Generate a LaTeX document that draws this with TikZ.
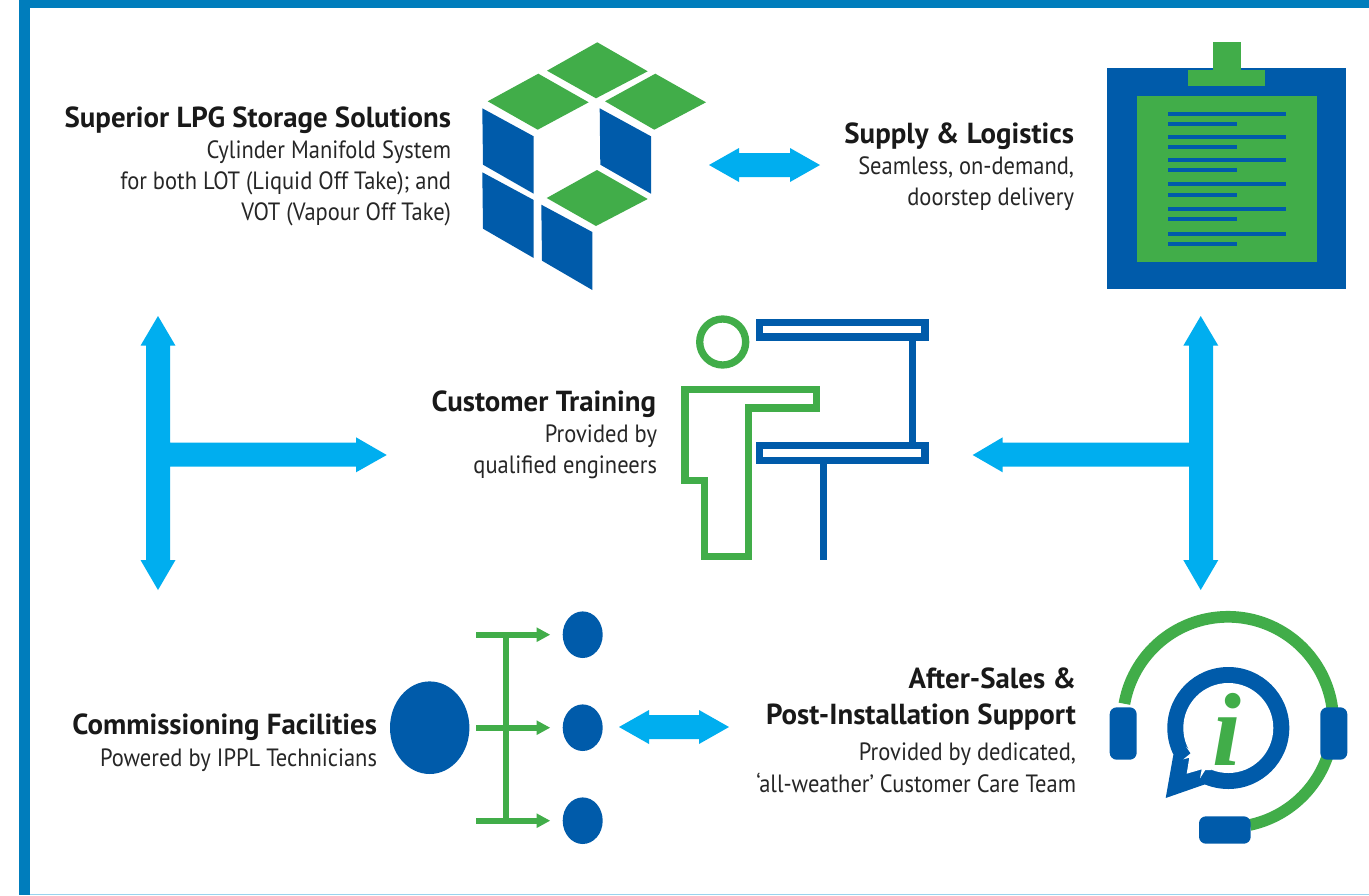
\documentclass[tikz,border=0pt]{standalone}
\usepackage{fontspec}
\setmainfont{PT Sans}
\newfontfamily\subfont[FakeStretch=0.90]{PT Sans}
\newfontfamily\headfont[FakeStretch=0.995]{PT Sans}
\newfontfamily\iconfont{Liberation Serif}
\definecolor{ipblue}{HTML}{005BAA}
\definecolor{ipgreen}{HTML}{41AD49}
\definecolor{ipcyan}{HTML}{00AEEF}
\definecolor{ipframe}{HTML}{007DBC}
\definecolor{ipline}{HTML}{9AD3EE}
\tikzset{
  bluefill/.style={fill=ipblue,draw=none},
  greenfill/.style={fill=ipgreen,draw=none},
  cyanfill/.style={fill=ipcyan,draw=none},
  greenline/.style={draw=ipgreen,line width=7.3pt,miter limit=10},
  blueline/.style={draw=ipblue,line width=7.3pt},
  pad/.style={fill=ipblue,draw=none,rounded corners=7pt},
  head/.style={anchor=base east,inner sep=0pt,outer sep=0pt,font=\fontsize{29}{29}\headfont\bfseries,text=black!90},
  sub/.style={anchor=base east,inner sep=0pt,outer sep=0pt,font=\fontsize{25}{25}\subfont,text=black!85},
}
\newcommand{\dblH}[4]{% x1 x2 y headlen
  \fill[cyanfill] (#1,#3) -- ({#1+#4},{#3-17}) -- ({#1+#4},{#3-12}) -- ({#2-#4},{#3-12}) -- ({#2-#4},{#3-17}) -- (#2,#3) -- ({#2-#4},{#3+17}) -- ({#2-#4},{#3+12}) -- ({#1+#4},{#3+12}) -- ({#1+#4},{#3+17}) -- cycle;}
\begin{document}
\begin{tikzpicture}[x=1pt,y=-1pt]
\useasboundingbox (0,0) rectangle (1369,895);
\fill[white] (0,0) rectangle (1369,895);
% frame
\fill[ipframe] (19,0) rectangle (1369,7.5);
\fill[ipframe] (19,0) rectangle (30,895);
\fill[ipline] (30,893.5) rectangle (1369,895);
% cube
\fill[greenfill] (597.3,42.3) -- (647.7,71.3) -- (596,98.3) -- (547,70.7) -- cycle;
\fill[greenfill] (538.3,73.7) -- (588.7,102.3) -- (537.7,129.7) -- (487.7,101.3) -- cycle;
\fill[greenfill] (655.3,73.7) -- (706,102.3) -- (654.3,129.7) -- (605,101.3) -- cycle;
\fill[greenfill] (597,170) -- (647.7,199) -- (596,226) -- (546.7,198) -- cycle;
\fill[bluefill] (482.3,108.3) -- (533.7,136.3) -- (533.7,193.7) -- (483,164.7) -- cycle;
\fill[bluefill] (482.3,172.3) -- (533.7,200) -- (533.7,258) -- (483,228.7) -- cycle;
\fill[bluefill] (599.7,108.3) -- (651,136.3) -- (651,193.7) -- (600.3,164.7) -- cycle;
\fill[bluefill] (541.3,204.7) -- (592.3,232) -- (592.3,290) -- (542,260.7) -- cycle;
% clipboard
\fill[bluefill] (1107,68) rectangle (1346,289);
\fill[greenfill] (1213,42) rectangle (1241,70);
\fill[greenfill] (1188,70) rectangle (1265,86);
\fill[greenfill] (1137,96) rectangle (1317,262);
\foreach \ya/\yb in {114/124,137/147,160/170,184/195,209/219,234/244}{
  \fill[bluefill] (1168,\ya-2) rectangle (1286,\ya+2);
  \fill[bluefill] (1168,\yb-2) rectangle (1237,\yb+2);
}
% trainer
\draw[greenline] (722.7,342) ellipse (23pt and 23pt);
\draw[blueline] (759.4,322.4) rectangle (925,337);
\draw[blueline] (759.4,445.7) rectangle (925,460.3);
\fill[bluefill] (909,340) rectangle (916,442);
\fill[bluefill] (820,464) rectangle (827,560);
\draw[greenline] (685,389.7) -- (816.7,389.7) -- (816.7,408) -- (748.2,408) -- (748.2,556.3) -- (704.3,556.3) -- (704.3,480.3) -- (685,480.3) -- cycle;
% commissioning
\fill[bluefill] (429.7,727.7) ellipse (39.7pt and 46.3pt);
\foreach \y in {634.7,727.7,820.7}{
  \fill[bluefill] (582.7,\y) ellipse (20pt and 23.3pt);
  \fill[greenfill] (476,\y-3) rectangle (537,\y+3);
  \fill[greenfill] (536.7,\y-7.3) -- (550,\y) -- (536.7,\y+7.3) -- cycle;
}
\fill[greenfill] (503,634.7) rectangle (509,820.7);
% cyan arrows
\dblH{709}{820}{165}{30}
\dblH{619}{729}{727}{30}
% left T
\fill[cyanfill] (158,316) -- (175.5,345.7) -- (170,345.7) -- (170,442.7) -- (356,442.7) -- (356,437.3) -- (386.7,455) -- (356,472.3) -- (356,466.7) -- (170,466.7) -- (170,560) -- (175.5,560) -- (158,590) -- (140.5,560) -- (146,560) -- (146,345.7) -- (140.5,345.7) -- cycle;
% right T
\fill[cyanfill] (1200.7,316) -- (1218.3,345.7) -- (1213,345.7) -- (1213,560) -- (1218.3,560) -- (1200.7,590) -- (1183.3,560) -- (1189,560) -- (1189,466.7) -- (1002.7,466.7) -- (1002.7,472.3) -- (972.7,455) -- (1002.7,437.3) -- (1002.7,442.7) -- (1189,442.7) -- (1189,345.7) -- (1183.3,345.7) -- cycle;
% headset
\draw[ipgreen,line width=11.7pt,line cap=butt] plot[smooth,domain=170:-78,samples=90] ({1228+105.2*cos(\x)},{722-105.2*sin(\x)});
\fill[pad] (1109.7,707.3) rectangle (1136.7,759.7);
\fill[pad] (1320.3,707.3) rectangle (1347.3,759.7);
\fill[pad] (1199,816.3) rectangle (1250.7,843.7);
\fill[bluefill] (1228.3,728) circle (61pt);
\fill[bluefill] (1173.3,755) -- (1165.7,798) -- (1205,784.3) -- (1213.3,786.7) -- cycle;
\fill[white] (1228.3,728) circle (45pt);
\fill[white] (1186,746.7) -- (1190.7,753.3) -- (1183.3,759.3) -- (1189.3,757.7) -- (1186.7,773.7) -- (1201.7,769.3) -- (1200,778.3) -- (1205.3,770) -- (1211.7,770) -- cycle;
\node[anchor=base,inner sep=0pt,text=ipgreen,font=\fontsize{104}{104}\selectfont\iconfont\bfseries\itshape] (infoi) at (1227,765) {i};
% texts
\node[head] (t1) at (451,127) {Superior LPG Storage Solutions};
\node[sub] (t1a) at (451,158) {Cylinder Manifold System};
\node[sub] (t1b) at (451,189) {for both LOT (Liquid Off Take); and};
\node[sub] (t1c) at (451,220) {VOT (Vapour Off Take)};
\node[head] (t2) at (1074,143) {Supply \& Logistics};
\node[sub] (t2a) at (1074,174) {Seamless, on-demand,};
\node[sub] (t2b) at (1074,205) {doorstep delivery};
\node[head] (t3) at (656,411) {Customer Training};
\node[sub] (t3a) at (657,442) {Provided by};
\node[sub] (t3b) at (657,473) {qualified engineers};
\node[head] (t4) at (377,734) {Commissioning Facilities};
\node[sub] (t4a) at (377,766) {Powered by IPPL Technicians};
\node[head] (t5) at (1076,688) {After-Sales \&};
\node[head] (t5b) at (1076,724) {Post-Installation Support};
\node[sub] (t5c) at (1076,760) {Provided by dedicated,};
\node[sub] (t5d) at (1076,792) {‘all-weather’ Customer Care Team};
\end{tikzpicture}
\end{document}
